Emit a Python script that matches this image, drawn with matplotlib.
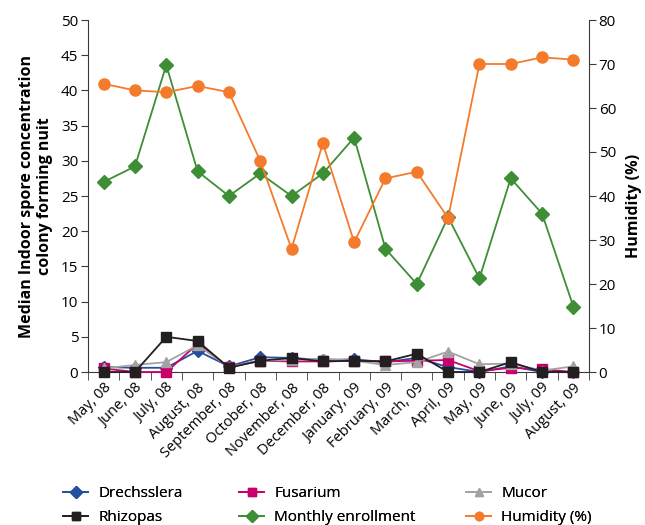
import matplotlib
matplotlib.use("Agg")
import matplotlib.pyplot as plt
from matplotlib.lines import Line2D
import numpy as np

plt.rcParams['font.family'] = ['Open Sans', 'DejaVu Sans']

months = ["May, 08", "June, 08", "July, 08", "August, 08", "September, 08", "October, 08",
          "November, 08", "December, 08", "January, 09", "February, 09", "March, 09",
          "April, 09", "May, 09", "June, 09", "July, 09", "August, 09"]

drechsslera = [0.7, 0.6, 0.6, 3.0, 0.8, 2.1, 2.0, 1.7, 1.8, 1.4, 2.0, 0.7, 0.0, 0.8, 0.0, 0.0]
fusarium    = [0.5, 0.0, 0.0, 4.0, 0.7, 1.6, 1.5, 1.5, 1.6, 1.5, 1.6, 1.7, 0.1, 0.6, 0.4, 0.0]
mucor       = [0.5, 1.0, 1.4, 3.8, 0.7, 1.6, 1.7, 1.9, 1.6, 1.0, 1.4, 2.9, 1.1, 1.2, 0.2, 0.8]
rhizopas    = [0.0, 0.0, 5.0, 4.4, 0.6, 1.6, 2.0, 1.5, 1.6, 1.5, 2.6, 0.0, 0.0, 1.4, 0.0, 0.0]
enrollment  = [27.0, 29.2, 43.6, 28.5, 25.0, 28.2, 25.0, 28.2, 33.3, 17.5, 12.5, 22.0, 13.3, 27.5, 22.5, 9.3]
humidity    = [65.5, 64.0, 63.6, 65.0, 63.6, 48.0, 28.0, 52.0, 29.5, 44.0, 45.5, 35.0, 70.0, 70.0, 71.5, 71.0]

c_dre = "#22509f"
c_fus = "#c8006a"
c_muc = "#a3a3a3"
c_rhi = "#231f20"
c_enr = "#3e8e35"
c_hum = "#f47b2b"
axis_col = "#3a3a3a"

fig = plt.figure(figsize=(6.45, 5.25), dpi=100)
ax = fig.add_axes([88/645, 1-372/525, (589-88)/645, (372-20)/525])
x = np.arange(len(months))

ax.plot(x, drechsslera, color=c_dre, marker='D', ms=6.5, lw=1.3, zorder=3, clip_on=False)
ax.plot(x, fusarium, color=c_fus, marker='s', ms=7, lw=1.3, zorder=3, clip_on=False)
ax.plot(x, mucor, color=c_muc, marker='^', ms=7, lw=1.3, zorder=3, clip_on=False)
ax.plot(x, rhizopas, color=c_rhi, marker='s', ms=7.5, lw=1.3, zorder=4, clip_on=False)
ax.plot(x, enrollment, color=c_enr, marker='D', ms=7.5, lw=1.3, zorder=5, clip_on=False)

ax.set_xlim(-0.5, len(months)-0.5)
ax.set_ylim(0, 50)
ax.set_yticks(np.arange(0, 51, 5))
ax.set_xticks(x)
ax.set_xticklabels(months, rotation=45, ha='right', rotation_mode='anchor', fontsize=10.5)
ax.set_xticks(np.arange(-0.5, len(months), 1), minor=True)
ax.tick_params(axis='x', which='major', length=0, pad=6)
ax.tick_params(axis='x', which='minor', length=6, color=axis_col, direction='out')
ax.tick_params(axis='y', length=5, color=axis_col, labelsize=11, pad=2)

for s in ['top', 'right']:
    ax.spines[s].set_visible(False)
for s in ['left', 'bottom']:
    ax.spines[s].set_color(axis_col)

ax.set_ylabel("Median Indoor spore concentration\ncolony forming nuit", fontsize=11.5,
              fontweight='bold', labelpad=6, linespacing=1.1)

ax2 = ax.twinx()
ax2.plot(x, humidity, color=c_hum, marker='o', ms=8, lw=1.3, zorder=5, clip_on=False)
ax2.set_ylim(0, 80)
ax2.set_yticks(np.arange(0, 81, 10))
ax2.tick_params(axis='y', length=5, color=axis_col, labelsize=11, pad=2)
for s in ['top', 'left', 'bottom']:
    ax2.spines[s].set_visible(False)
ax2.spines['right'].set_color(axis_col)
fig.text(626/645, 1-206/525, "Humidity (%)", rotation=90, ha='left', va='center',
         fontsize=11.5, fontweight='bold')

def h(color, marker, ms):
    return Line2D([0], [0], color=color, marker=marker, ms=ms, lw=1.3)

groups = [
    (63/645, [("Drechsslera", h(c_dre, 'D', 6)), ("Rhizopas", h(c_rhi, 's', 6))]),
    (239/645, [("Fusarium", h(c_fus, 's', 6)), ("Monthly enrollment", h(c_enr, 'D', 6))]),
    (466/645, [("Mucor", h(c_muc, '^', 6)), ("Humidity (%)", h(c_hum, 'o', 6))]),
]
for xpos, items in groups:
    leg = fig.legend([it[1] for it in items], [it[0] for it in items],
                     loc='upper left', bbox_to_anchor=(xpos, 1-486/525), frameon=False,
                     fontsize=11, handlelength=1.65, handletextpad=0.65, labelspacing=0.62,
                     borderaxespad=0, borderpad=0)
    fig.add_artist(leg)

fig.savefig("out.png", dpi=100)
